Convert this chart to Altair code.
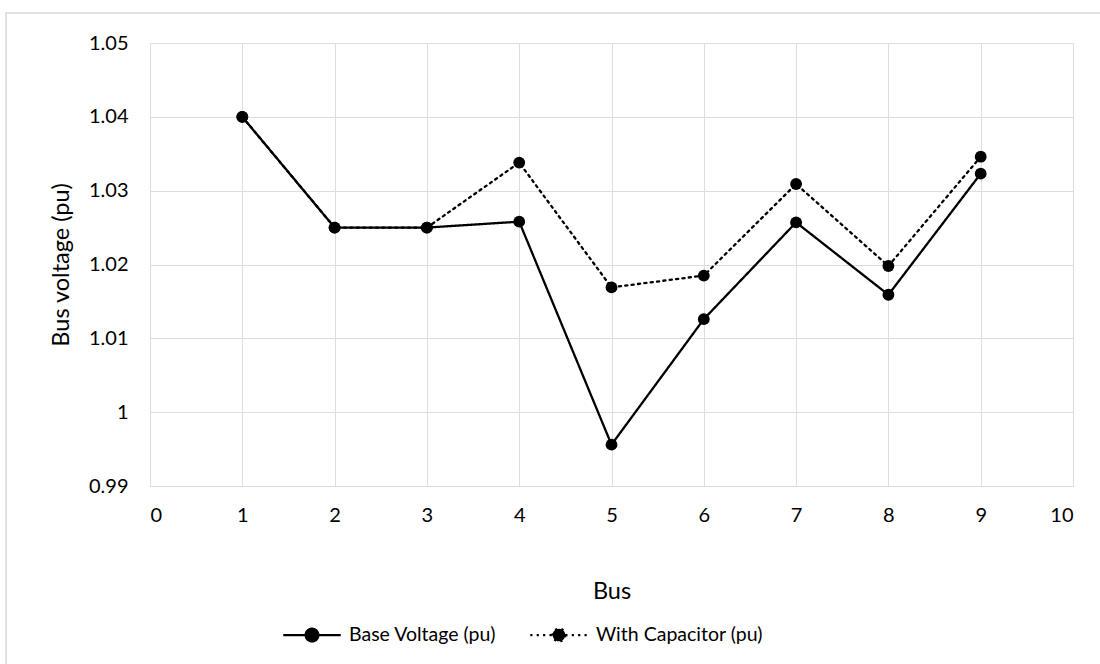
import altair as alt
import pandas as pd

buses = [1, 2, 3, 4, 5, 6, 7, 8, 9]
base_voltage = [1.040, 1.025, 1.025, 1.0258, 0.9956, 1.0126, 1.0257, 1.0159, 1.0323]
with_capacitor = [1.040, 1.025, 1.025, 1.0338, 1.0169, 1.0185, 1.0309, 1.0198, 1.0346]
series_names = ["Base Voltage (pu)", "With Capacitor (pu)"]
x_ticks = list(range(0, 11))
y_ticks = [0.99, 1.00, 1.01, 1.02, 1.03, 1.04, 1.05]

rows = []
for b, v in zip(buses, base_voltage):
    rows.append({"Bus": b, "Voltage": v, "Series": series_names[0]})
for b, v in zip(buses, with_capacitor):
    rows.append({"Bus": b, "Voltage": v, "Series": series_names[1]})
df = pd.DataFrame(rows)

FONT = "Lato"
W, H = 923, 443
PAD_L, PAD_T = 150, 43

x_enc = alt.X("Bus:Q", scale=alt.Scale(domain=[0, 10], nice=False),
              axis=alt.Axis(values=x_ticks, format="d", title="Bus", grid=True,
                            domain=False, ticks=False, labelPadding=19,
                            labelFontSize=20, titleFontSize=23.5, titleFontWeight="normal",
                            titleY=105, titleBaseline="middle",
                            labelColor="#000000", titleColor="#000000"))
y_enc = alt.Y("Voltage:Q", scale=alt.Scale(domain=[0.99, 1.05], nice=False, zero=False),
              axis=alt.Axis(values=y_ticks, format=".2~f", title="Bus voltage (pu)", grid=True,
                            domain=False, ticks=False, labelPadding=22,
                            labelFontSize=20, titleFontSize=23.5, titleFontWeight="normal",
                            titleX=-89, titleY=H / 2, titleBaseline="middle", titleAlign="center",
                            labelColor="#000000", titleColor="#000000"))

sym_path = "M-1,0H-0.22M0.22,0H1M0.22,0A0.22,0.22,0,1,1,-0.22,0A0.22,0.22,0,1,1,0.22,0Z"

dash_scale = alt.Scale(domain=series_names, range=[[1, 0], [2.2, 4.2]])

lines = alt.Chart(df).mark_line(color="black", strokeWidth=2.3, strokeCap="round").encode(
    x=x_enc, y=y_enc,
    strokeDash=alt.StrokeDash("Series:N", scale=dash_scale,
                              legend=alt.Legend(title=None, orient="none", direction="horizontal",
                                                legendX=132, legendY=562,
                                                symbolType=sym_path, symbolSize=3300,
                                                symbolStrokeWidth=2.3, symbolStrokeColor="black",
                                                symbolFillColor="black",
                                                labelFontSize=19.5, labelFont=FONT, labelColor="#000000",
                                                labelOffset=7, columnPadding=28, labelLimit=400)),
)

points = alt.Chart(df).mark_point(filled=True, color="black", size=140, opacity=1,
                                  shape="circle").encode(
    x="Bus:Q", y="Voltage:Q", detail="Series:N"
)

frame = alt.Chart(pd.DataFrame({"a": [0]})).mark_rect(
    fill=None, stroke="#d9d9d9", strokeWidth=1.5
).encode(x=alt.value(-144), x2=alt.value(W + 200), y=alt.value(-30), y2=alt.value(H + 300))

chart = alt.layer(frame, lines, points).properties(
    width=W, height=H,
    padding={"left": PAD_L, "top": PAD_T, "right": 1100 - PAD_L - W, "bottom": 664 - PAD_T - H},
    autosize=alt.AutoSizeParams(type="none"),
).configure_view(stroke=None).configure_axis(
    gridColor="#d9d9d9", gridWidth=1.5, labelFont=FONT, titleFont=FONT
).configure(background="white", font=FONT)

chart.save("out.html", embed_options={"renderer": "svg", "actions": False})
